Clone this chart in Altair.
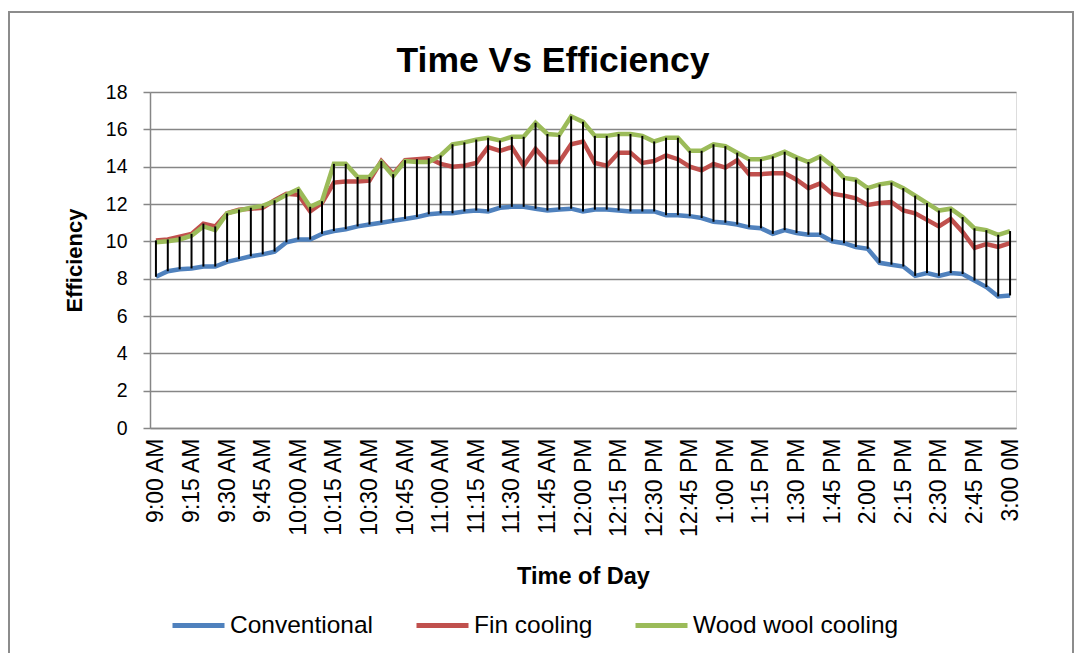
import altair as alt
import pandas as pd

times = [
    "9:00 AM", "9:05 AM", "9:10 AM", "9:15 AM", "9:20 AM", "9:25 AM",
    "9:30 AM", "9:35 AM", "9:40 AM", "9:45 AM", "9:50 AM", "9:55 AM",
    "10:00 AM", "10:05 AM", "10:10 AM", "10:15 AM", "10:20 AM", "10:25 AM",
    "10:30 AM", "10:35 AM", "10:40 AM", "10:45 AM", "10:50 AM", "10:55 AM",
    "11:00 AM", "11:05 AM", "11:10 AM", "11:15 AM", "11:20 AM", "11:25 AM",
    "11:30 AM", "11:35 AM", "11:40 AM", "11:45 AM", "11:50 AM", "11:55 AM",
    "12:00 PM", "12:05 PM", "12:10 PM", "12:15 PM", "12:20 PM", "12:25 PM",
    "12:30 PM", "12:35 PM", "12:40 PM", "12:45 PM", "12:50 PM", "12:55 PM",
    "1:00 PM", "1:05 PM", "1:10 PM", "1:15 PM", "1:20 PM", "1:25 PM",
    "1:30 PM", "1:35 PM", "1:40 PM", "1:45 PM", "1:50 PM", "1:55 PM",
    "2:00 PM", "2:05 PM", "2:10 PM", "2:15 PM", "2:20 PM", "2:25 PM",
    "2:30 PM", "2:35 PM", "2:40 PM", "2:45 PM", "2:50 PM", "2:55 PM",
    "3:00 0M",
]

conventional = [
    8.1, 8.4, 8.5, 8.55, 8.65, 8.65, 8.9, 9.05, 9.2, 9.3, 9.45, 9.95,
    10.1, 10.1, 10.4, 10.55, 10.65, 10.8, 10.9, 11.0, 11.1, 11.2, 11.3, 11.45,
    11.5, 11.5, 11.6, 11.65, 11.6, 11.8, 11.85, 11.85, 11.75, 11.65, 11.7, 11.75,
    11.6, 11.7, 11.7, 11.65, 11.6, 11.6, 11.6, 11.4, 11.4, 11.35, 11.25, 11.05,
    11.0, 10.9, 10.75, 10.7, 10.4, 10.6, 10.45, 10.35, 10.35, 10.0, 9.9, 9.7,
    9.6, 8.85, 8.75, 8.65, 8.15, 8.3, 8.15, 8.3, 8.25, 7.9, 7.55, 7.05, 7.1,
]

fin_cooling = [
    10.05, 10.1, 10.25, 10.4, 10.95, 10.8, 11.5, 11.7, 11.75, 11.8, 12.2, 12.55,
    12.5, 11.6, 12.05, 13.15, 13.2, 13.2, 13.25, 14.3, 13.6, 14.35, 14.4, 14.45,
    14.15, 14.0, 14.05, 14.2, 15.05, 14.85, 15.05, 14.05, 14.95, 14.25, 14.25, 15.2,
    15.35, 14.2, 14.05, 14.75, 14.75, 14.2, 14.3, 14.6, 14.4, 14.0, 13.8, 14.15,
    13.95, 14.35, 13.6, 13.6, 13.65, 13.65, 13.3, 12.85, 13.1, 12.55, 12.45, 12.3,
    11.95, 12.05, 12.1, 11.65, 11.5, 11.15, 10.8, 11.2, 10.5, 9.65, 9.85, 9.7, 9.9,
]

wood_wool_cooling = [
    9.95, 10.0, 10.1, 10.3, 10.8, 10.6, 11.5, 11.65, 11.8, 11.9, 12.15, 12.5,
    12.8, 11.85, 12.15, 14.15, 14.15, 13.45, 13.45, 14.25, 13.5, 14.3, 14.25, 14.25,
    14.6, 15.2, 15.3, 15.45, 15.55, 15.4, 15.6, 15.6, 16.35, 15.75, 15.7, 16.7,
    16.4, 15.65, 15.65, 15.75, 15.75, 15.65, 15.35, 15.55, 15.55, 14.85, 14.85, 15.2,
    15.1, 14.75, 14.4, 14.4, 14.55, 14.8, 14.5, 14.25, 14.55, 14.05, 13.4, 13.3,
    12.85, 13.05, 13.15, 12.85, 12.45, 12.05, 11.65, 11.75, 11.3, 10.7, 10.6, 10.35, 10.55,
]

series_names = ["Conventional", "Fin cooling", "Wood wool cooling"]
series_colors = ["#4F81BD", "#C0504D", "#9BBB59"]
y_ticks = [0, 2, 4, 6, 8, 10, 12, 14, 16, 18]
x_label_values = times[::3]

FONT = "Liberation Sans, Arial, sans-serif"
GRID = "#868686"

rows = []
for name, vals in zip(series_names, [conventional, fin_cooling, wood_wool_cooling]):
    for t, v in zip(times, vals):
        rows.append({"time": t, "series": name, "value": v})
long_df = pd.DataFrame(rows)

wide_df = pd.DataFrame({"time": times, "a": conventional, "b": fin_cooling, "c": wood_wool_cooling})
wide_df["lo"] = wide_df[["a", "b", "c"]].min(axis=1)
wide_df["hi"] = wide_df[["a", "b", "c"]].max(axis=1)

W, H = 866, 336

x_axis = alt.Axis(
    values=x_label_values, labelAngle=270, labelFont=FONT, labelFontSize=23,
    labelColor="black", labelPadding=10, ticks=False, domainColor=GRID,
    domainWidth=1.5, grid=False, title="Time of Day", titleFont=FONT,
    titleFontSize=23.5, titleFontWeight="bold", titleColor="black",
    titleX=W / 2, titleY=155, titleBaseline="alphabetic", titleAlign="center",
    labelOverlap=False,
)
x_scale = alt.Scale(type="point", padding=0.5)

y_axis = alt.Axis(
    values=y_ticks, grid=True, gridColor=GRID, gridWidth=1.5, tickSize=7,
    tickColor=GRID, tickWidth=1.5, domainColor=GRID, domainWidth=1.5,
    labelFont=FONT, labelFontSize=19.5, labelColor="black", labelPadding=16,
    labelOverlap=False, labelFlush=False,
    title="Efficiency", titleFont=FONT, titleFontSize=22, titleFontWeight="bold",
    titleColor="black", titleAngle=270, titleX=-64, titleY=H / 2,
    titleBaseline="bottom", titleAlign="center",
)
y_scale = alt.Scale(domain=[0, 18], nice=False)

border = alt.Chart(pd.DataFrame({"k": [0]})).mark_rect(
    fillOpacity=0, stroke="#8C8C8C", strokeWidth=2
).encode(
    x=alt.value(-141), x2=alt.value(W + 57), y=alt.value(-80), y2=alt.value(H + 260)
)

lines = alt.Chart(long_df).mark_line(strokeWidth=4.5).encode(
    x=alt.X("time:N", sort=times, scale=x_scale, axis=x_axis),
    y=alt.Y("value:Q", scale=y_scale, axis=y_axis),
    color=alt.Color(
        "series:N",
        scale=alt.Scale(domain=series_names, range=series_colors),
        legend=alt.Legend(
            orient="none", legendX=20, legendY=505, direction="horizontal",
            title=None, symbolType="stroke", symbolSize=2704, symbolStrokeWidth=5,
            labelFont=FONT, labelFontSize=24.5, labelColor="black", labelOffset=3,
            columnPadding=32, labelLimit=400,
        ),
    ),
)

rules = alt.Chart(wide_df).mark_rule(color="black", strokeWidth=2).encode(
    x=alt.X("time:N", sort=times, scale=x_scale, axis=x_axis),
    y=alt.Y("lo:Q", scale=y_scale, axis=y_axis),
    y2="hi:Q",
)

chart = alt.layer(border, lines, rules).properties(
    width=W, height=H,
    title=alt.TitleParams(
        "Time Vs Efficiency", font=FONT, fontSize=35.5, fontWeight="bold",
        color="black", anchor="middle", dx=-30, dy=80, offset=12,
    ),
    autosize=alt.AutoSizeParams(type="none"),
    padding={"left": 142, "top": 84, "right": 61, "bottom": 225},
).configure_view(strokeOpacity=0, strokeWidth=0).configure(background="white")

chart.save("out.html", embed_options={"renderer": "svg", "actions": False})
